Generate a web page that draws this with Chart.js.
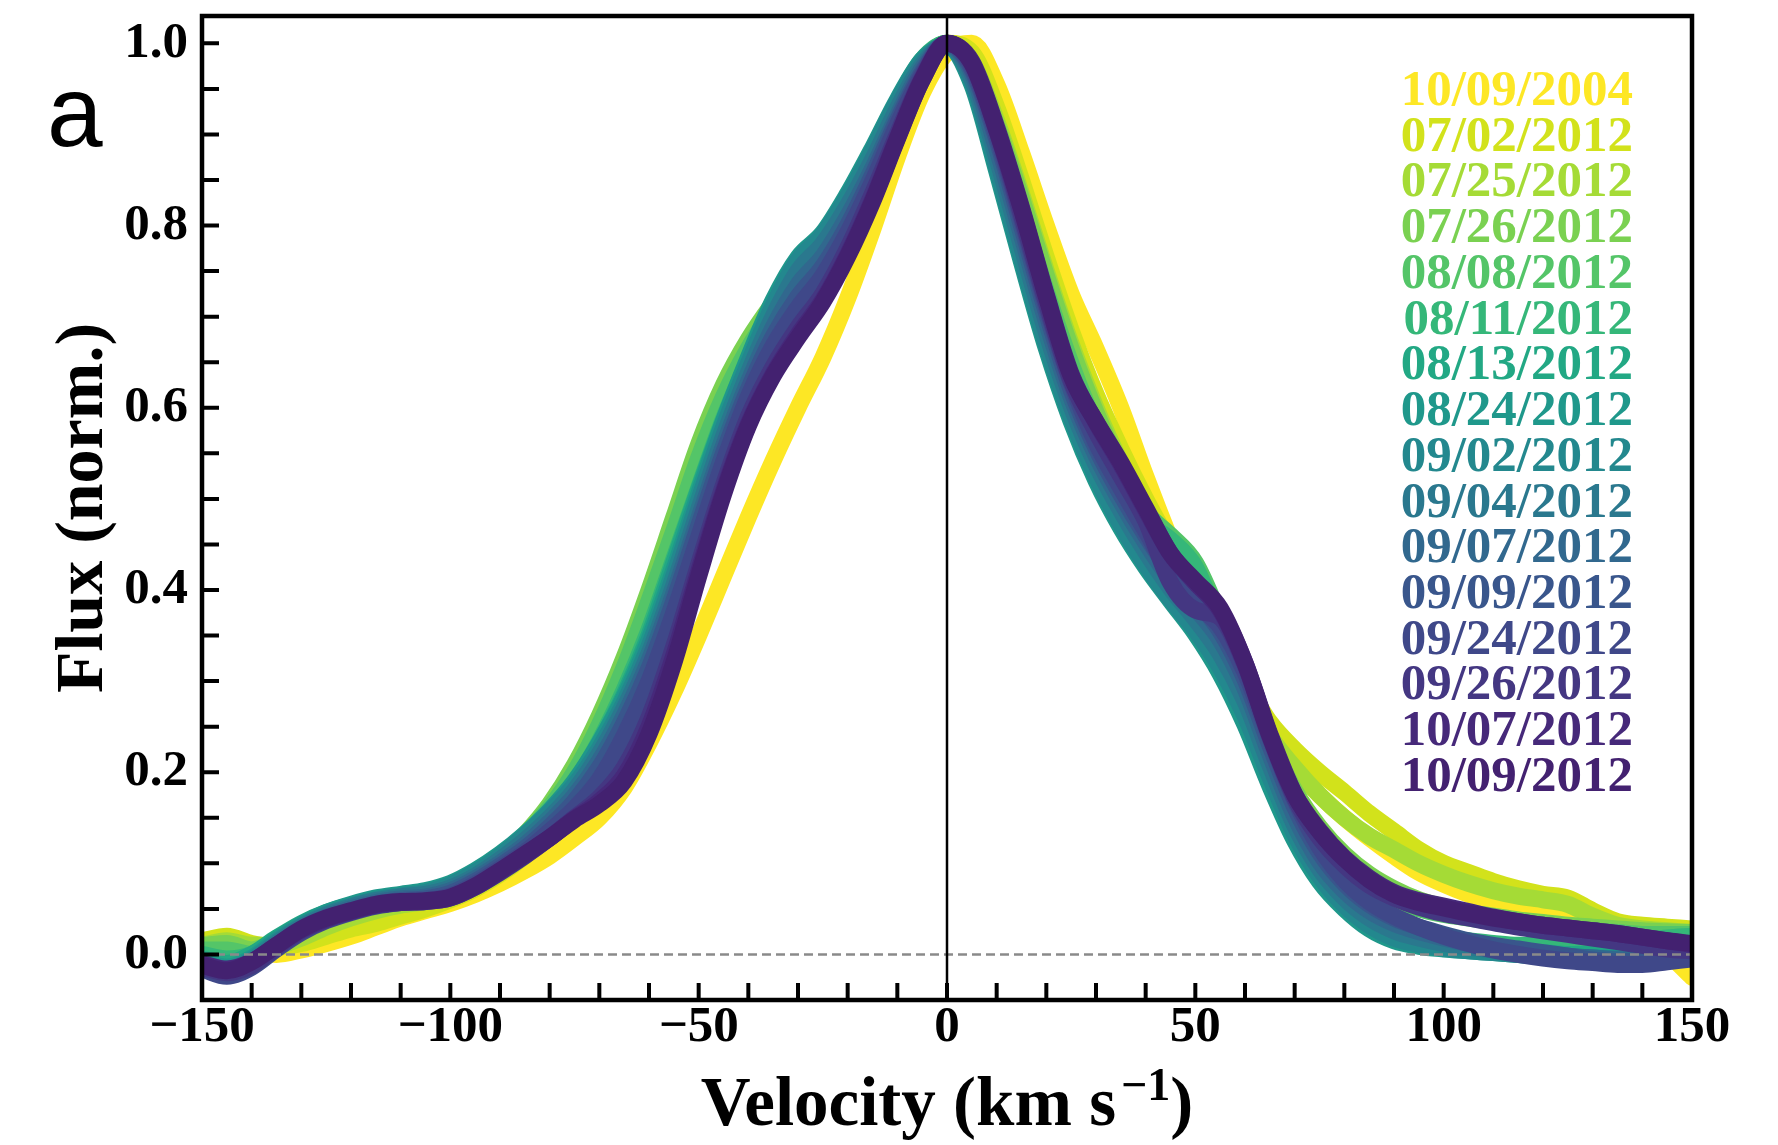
<!DOCTYPE html>
<html>
<head>
<meta charset="utf-8">
<script src="https://cdn.jsdelivr.net/npm/chart.js@4.4.1/dist/chart.umd.min.js"></script>
<style>
  html, body { margin: 0; padding: 0; background: #fff; }
  #wrap { width: 1778px; height: 1145px; }
</style>
</head>
<body>
<div id="wrap"><canvas id="chart" width="1778" height="1145"></canvas></div>
<script>
// velocity grid (km/s)
var VEL = [-150, -145, -140, -135, -130, -125, -120, -115, -110, -105,
           -100, -95, -90, -85, -80, -75, -70, -65, -60, -55,
           -50, -45, -40, -35, -30, -25, -20, -15, -10, -5,
           0, 5, 10, 15, 20, 25, 30, 35, 40, 45,
           50, 55, 60, 65, 70, 75, 80, 85, 90, 95,
           100, 105, 110, 115, 120, 125, 130, 135, 140, 145,
           150];

var DATES = ["10/09/2004", "07/02/2012", "07/25/2012", "07/26/2012", "08/08/2012", "08/11/2012",
             "08/13/2012", "08/24/2012", "09/02/2012", "09/04/2012", "09/07/2012", "09/09/2012",
             "09/24/2012", "09/26/2012", "10/07/2012", "10/09/2012"];

var COLORS = ["#fde725", "#d2e21b", "#a5db36", "#7ad151", "#54c568", "#35b779",
              "#22a884", "#1f988b", "#23888e", "#2a788e", "#31688e", "#39568c",
              "#3f4889", "#443782", "#46297a", "#432170"];

// normalised flux per date, one value per VEL point
var f20041009 = [0.005, 0.010, 0.005, 0.000, 0.005, 0.012, 0.020, 0.030, 0.040, 0.048,
  0.056, 0.066, 0.078, 0.092, 0.108, 0.128, 0.150, 0.183, 0.232, 0.288,
  0.350, 0.415, 0.480, 0.542, 0.600, 0.655, 0.720, 0.795, 0.875, 0.945,
  0.990, 1.000, 0.955, 0.880, 0.800, 0.725, 0.665, 0.600, 0.525, 0.455,
  0.390, 0.335, 0.285, 0.240, 0.205, 0.175, 0.150, 0.128, 0.108, 0.090,
  0.077, 0.066, 0.057, 0.050, 0.044, 0.038, 0.030, 0.020, 0.010, 0.000,
  -0.025];
var f20120702 = [0.015, 0.020, 0.012, 0.008, 0.012, 0.020, 0.028, 0.034, 0.042, 0.050,
  0.060, 0.072, 0.088, 0.108, 0.132, 0.162, 0.200, 0.250, 0.310, 0.380,
  0.455, 0.530, 0.590, 0.645, 0.695, 0.745, 0.795, 0.850, 0.910, 0.965,
  1.000, 0.990, 0.930, 0.850, 0.765, 0.685, 0.615, 0.555, 0.500, 0.450,
  0.400, 0.350, 0.300, 0.255, 0.225, 0.200, 0.178, 0.155, 0.135, 0.115,
  0.100, 0.090, 0.080, 0.072, 0.066, 0.062, 0.048, 0.036, 0.032, 0.030,
  0.028];
var f20120725 = [0.010, 0.015, 0.010, 0.010, 0.018, 0.030, 0.040, 0.048, 0.054, 0.058,
  0.064, 0.076, 0.094, 0.116, 0.145, 0.180, 0.225, 0.280, 0.345, 0.420,
  0.500, 0.575, 0.635, 0.685, 0.728, 0.770, 0.815, 0.865, 0.920, 0.972,
  1.000, 0.980, 0.915, 0.835, 0.750, 0.670, 0.600, 0.540, 0.490, 0.445,
  0.400, 0.350, 0.295, 0.240, 0.205, 0.175, 0.150, 0.130, 0.115, 0.100,
  0.088, 0.078, 0.070, 0.064, 0.060, 0.055, 0.042, 0.032, 0.028, 0.026,
  0.024];
var f20120726 = [0.010, 0.012, 0.005, 0.015, 0.028, 0.040, 0.048, 0.055, 0.060, 0.065,
  0.072, 0.086, 0.106, 0.132, 0.165, 0.208, 0.262, 0.326, 0.400, 0.480,
  0.560, 0.625, 0.675, 0.715, 0.750, 0.785, 0.828, 0.878, 0.932, 0.980,
  1.000, 0.975, 0.910, 0.830, 0.745, 0.665, 0.595, 0.535, 0.485, 0.445,
  0.405, 0.355, 0.295, 0.235, 0.180, 0.140, 0.110, 0.088, 0.072, 0.060,
  0.052, 0.046, 0.042, 0.038, 0.035, 0.032, 0.030, 0.028, 0.026, 0.025,
  0.024];
var f20120808 = [0.005, 0.005, 0.000, 0.014, 0.030, 0.042, 0.050, 0.056, 0.061, 0.066,
  0.073, 0.087, 0.106, 0.130, 0.161, 0.200, 0.252, 0.315, 0.388, 0.465,
  0.545, 0.612, 0.665, 0.708, 0.748, 0.786, 0.828, 0.878, 0.932, 0.980,
  1.000, 0.970, 0.900, 0.815, 0.728, 0.648, 0.580, 0.525, 0.485, 0.460,
  0.430, 0.370, 0.300, 0.230, 0.170, 0.125, 0.095, 0.075, 0.060, 0.050,
  0.044, 0.040, 0.036, 0.032, 0.030, 0.028, 0.026, 0.024, 0.022, 0.022,
  0.022];
var f20120811 = [0.000, -0.005, 0.000, 0.016, 0.032, 0.044, 0.052, 0.058, 0.062, 0.066,
  0.072, 0.086, 0.104, 0.126, 0.154, 0.188, 0.234, 0.290, 0.356, 0.434,
  0.512, 0.588, 0.652, 0.710, 0.758, 0.790, 0.832, 0.882, 0.936, 0.982,
  1.000, 0.965, 0.885, 0.795, 0.705, 0.625, 0.560, 0.510, 0.475, 0.455,
  0.425, 0.360, 0.285, 0.210, 0.148, 0.100, 0.068, 0.045, 0.030, 0.022,
  0.018, 0.015, 0.012, 0.010, 0.010, 0.010, 0.010, 0.012, 0.015, 0.018,
  0.020];
var f20120813 = [-0.005, -0.010, 0.000, 0.018, 0.034, 0.046, 0.054, 0.060, 0.064, 0.067,
  0.074, 0.088, 0.106, 0.128, 0.155, 0.188, 0.232, 0.285, 0.350, 0.430,
  0.510, 0.585, 0.650, 0.710, 0.755, 0.785, 0.830, 0.880, 0.935, 0.980,
  0.998, 0.960, 0.870, 0.770, 0.675, 0.595, 0.528, 0.475, 0.430, 0.392,
  0.355, 0.310, 0.255, 0.188, 0.128, 0.082, 0.052, 0.030, 0.016, 0.010,
  0.008, 0.006, 0.004, 0.003, 0.002, 0.000, 0.000, -0.002, 0.000, 0.005,
  0.010];
var f20120824 = [-0.008, -0.014, -0.004, 0.016, 0.033, 0.046, 0.055, 0.062, 0.066, 0.070,
  0.078, 0.092, 0.110, 0.132, 0.158, 0.190, 0.232, 0.282, 0.345, 0.422,
  0.505, 0.585, 0.655, 0.718, 0.765, 0.792, 0.835, 0.885, 0.938, 0.982,
  0.998, 0.955, 0.860, 0.760, 0.665, 0.585, 0.520, 0.468, 0.425, 0.388,
  0.352, 0.308, 0.252, 0.185, 0.125, 0.080, 0.050, 0.028, 0.015, 0.009,
  0.006, 0.004, 0.002, 0.000, -0.002, -0.003, -0.004, -0.004, -0.002, 0.004,
  0.008];
var f20120902 = [-0.010, -0.016, -0.006, 0.014, 0.031, 0.044, 0.053, 0.060, 0.064, 0.068,
  0.076, 0.090, 0.108, 0.130, 0.156, 0.186, 0.226, 0.276, 0.338, 0.415,
  0.498, 0.578, 0.648, 0.712, 0.762, 0.790, 0.832, 0.882, 0.936, 0.980,
  0.998, 0.958, 0.865, 0.765, 0.670, 0.590, 0.525, 0.472, 0.428, 0.390,
  0.356, 0.315, 0.262, 0.195, 0.132, 0.086, 0.054, 0.032, 0.018, 0.011,
  0.007, 0.004, 0.002, 0.000, -0.002, -0.004, -0.005, -0.006, -0.004, 0.002,
  0.006];
var f20120904 = [-0.012, -0.018, -0.008, 0.012, 0.030, 0.043, 0.052, 0.059, 0.063, 0.066,
  0.073, 0.086, 0.104, 0.125, 0.150, 0.180, 0.220, 0.270, 0.330, 0.405,
  0.488, 0.568, 0.638, 0.700, 0.750, 0.780, 0.822, 0.872, 0.928, 0.976,
  0.999, 0.962, 0.875, 0.778, 0.683, 0.602, 0.538, 0.487, 0.442, 0.402,
  0.368, 0.330, 0.278, 0.208, 0.142, 0.094, 0.062, 0.040, 0.026, 0.018,
  0.012, 0.008, 0.005, 0.002, 0.000, -0.002, -0.004, -0.005, -0.003, 0.002,
  0.006];
var f20120907 = [-0.014, -0.020, -0.010, 0.010, 0.028, 0.041, 0.050, 0.057, 0.061, 0.063,
  0.070, 0.083, 0.100, 0.120, 0.145, 0.174, 0.212, 0.262, 0.322, 0.396,
  0.478, 0.558, 0.628, 0.688, 0.735, 0.766, 0.810, 0.862, 0.920, 0.972,
  0.999, 0.968, 0.885, 0.790, 0.695, 0.612, 0.548, 0.497, 0.452, 0.412,
  0.380, 0.345, 0.292, 0.220, 0.152, 0.102, 0.070, 0.048, 0.034, 0.025,
  0.018, 0.012, 0.008, 0.004, 0.001, -0.002, -0.004, -0.006, -0.005, 0.000,
  0.004];
var f20120909 = [-0.015, -0.022, -0.012, 0.008, 0.026, 0.039, 0.048, 0.055, 0.059, 0.061,
  0.067, 0.080, 0.097, 0.116, 0.140, 0.168, 0.205, 0.254, 0.314, 0.388,
  0.470, 0.550, 0.620, 0.678, 0.722, 0.755, 0.800, 0.855, 0.915, 0.968,
  1.000, 0.972, 0.895, 0.800, 0.705, 0.620, 0.556, 0.505, 0.460, 0.420,
  0.390, 0.355, 0.302, 0.230, 0.162, 0.112, 0.078, 0.055, 0.040, 0.030,
  0.022, 0.015, 0.010, 0.006, 0.002, -0.002, -0.006, -0.008, -0.008, -0.004,
  0.000];
var f20120924 = [-0.016, -0.024, -0.014, 0.006, 0.024, 0.037, 0.046, 0.053, 0.057, 0.059,
  0.064, 0.077, 0.094, 0.112, 0.135, 0.160, 0.192, 0.240, 0.300, 0.375,
  0.458, 0.540, 0.612, 0.668, 0.710, 0.745, 0.792, 0.848, 0.910, 0.965,
  1.000, 0.975, 0.900, 0.808, 0.712, 0.628, 0.562, 0.512, 0.465, 0.418,
  0.385, 0.360, 0.310, 0.238, 0.170, 0.118, 0.082, 0.058, 0.042, 0.030,
  0.020, 0.012, 0.005, 0.000, -0.004, -0.007, -0.009, -0.011, -0.011, -0.008,
  -0.005];
var f20120926 = [-0.014, -0.020, -0.012, 0.008, 0.026, 0.038, 0.047, 0.054, 0.057, 0.058,
  0.062, 0.074, 0.090, 0.108, 0.128, 0.150, 0.172, 0.205, 0.260, 0.338,
  0.428, 0.515, 0.590, 0.645, 0.688, 0.725, 0.775, 0.835, 0.900, 0.962,
  1.000, 0.978, 0.905, 0.812, 0.716, 0.630, 0.574, 0.525, 0.476, 0.408,
  0.378, 0.370, 0.318, 0.240, 0.172, 0.128, 0.098, 0.076, 0.062, 0.052,
  0.045, 0.040, 0.035, 0.030, 0.026, 0.022, 0.018, 0.014, 0.010, 0.006,
  0.004];
var f20121007 = [-0.010, -0.016, -0.008, 0.010, 0.027, 0.039, 0.047, 0.054, 0.057, 0.058,
  0.062, 0.074, 0.091, 0.109, 0.128, 0.149, 0.168, 0.196, 0.250, 0.328,
  0.420, 0.508, 0.582, 0.637, 0.680, 0.718, 0.768, 0.828, 0.896, 0.960,
  1.000, 0.980, 0.908, 0.820, 0.724, 0.637, 0.584, 0.538, 0.488, 0.440,
  0.408, 0.378, 0.320, 0.242, 0.176, 0.136, 0.106, 0.084, 0.068, 0.059,
  0.053, 0.047, 0.041, 0.036, 0.032, 0.029, 0.026, 0.023, 0.019, 0.015,
  0.011];
var f20121009 = [-0.012, -0.018, -0.008, 0.010, 0.028, 0.040, 0.048, 0.055, 0.058, 0.059,
  0.063, 0.075, 0.092, 0.110, 0.128, 0.148, 0.165, 0.190, 0.242, 0.320,
  0.415, 0.505, 0.580, 0.635, 0.677, 0.716, 0.766, 0.826, 0.895, 0.960,
  1.000, 0.978, 0.905, 0.818, 0.722, 0.635, 0.585, 0.540, 0.490, 0.440,
  0.410, 0.380, 0.320, 0.240, 0.175, 0.135, 0.105, 0.082, 0.066, 0.057,
  0.051, 0.045, 0.040, 0.036, 0.032, 0.029, 0.026, 0.023, 0.019, 0.015,
  0.012];

var FLUX = [f20041009, f20120702, f20120725, f20120726, f20120808, f20120811,
            f20120813, f20120824, f20120902, f20120904, f20120907, f20120909,
            f20120924, f20120926, f20121007, f20121009];

var X_TICKS = [-150, -100, -50, 0, 50, 100, 150];
var Y_TICKS = [0.0, 0.2, 0.4, 0.6, 0.8, 1.0];

var SERIF = "'Liberation Serif', 'Times New Roman', serif";

var datasets = [];
for (var i = 0; i < FLUX.length; i++) {
    var pts = [];
    for (var j = 0; j < VEL.length; j++) {
        pts.push({ x: VEL[j], y: FLUX[i][j] });
    }
    datasets.push({
        label: DATES[i],
        data: pts,
        borderColor: COLORS[i],
        backgroundColor: COLORS[i],
        borderWidth: 17,
        borderCapStyle: 'round',
        borderJoinStyle: 'round',
        pointRadius: 0,
        cubicInterpolationMode: 'monotone',
        fill: false,
        clip: 0,
        order: FLUX.length - 1 - i   // later dates on top, as in the original
    });
}

// frame, inward ticks, zero lines, legend text, axis titles
var decor = {
    id: 'decor',
    afterDatasetsDraw: function (chart) {
        var ctx = chart.ctx, a = chart.chartArea;
        var xs = chart.scales.x, ys = chart.scales.y;
        ctx.save();

        var y0 = ys.getPixelForValue(0);
        ctx.strokeStyle = '#8a8a8a';
        ctx.lineWidth = 2.5;
        ctx.setLineDash([9, 5]);
        ctx.beginPath(); ctx.moveTo(a.left, y0); ctx.lineTo(a.right, y0); ctx.stroke();
        ctx.setLineDash([]);

        var x0 = xs.getPixelForValue(0);
        ctx.strokeStyle = '#000';
        ctx.lineWidth = 2.5;
        ctx.beginPath(); ctx.moveTo(x0, a.top); ctx.lineTo(x0, a.bottom); ctx.stroke();

        ctx.lineWidth = 4;
        ctx.beginPath();
        for (var v = -140; v <= 140; v += 10) {
            var px = xs.getPixelForValue(v);
            ctx.moveTo(px, a.bottom); ctx.lineTo(px, a.bottom - 17);
        }
        for (var k = 0; k <= 20; k++) {
            var py = ys.getPixelForValue(k * 0.05);
            ctx.moveTo(a.left, py); ctx.lineTo(a.left + 17, py);
        }
        ctx.stroke();

        ctx.lineWidth = 4.5;
        ctx.strokeRect(a.left, a.top, a.right - a.left, a.bottom - a.top);

        ctx.font = 'bold 51px ' + SERIF;
        ctx.textAlign = 'right';
        ctx.textBaseline = 'alphabetic';
        for (var n = 0; n < DATES.length; n++) {
            ctx.fillStyle = COLORS[n];
            ctx.fillText(DATES[n], 1633, 105 + n * 45.73);
        }
        ctx.restore();
    },
    afterDraw: function (chart) {
        var ctx = chart.ctx, a = chart.chartArea;
        ctx.save();
        ctx.fillStyle = '#000';
        ctx.textBaseline = 'alphabetic';

        // x title with superscript
        var big = 'bold 69px ' + SERIF, small = 'bold 46px ' + SERIF;
        var t1 = 'Velocity (km s', t2 = '\u22121', t3 = ')';
        ctx.font = big; var w1 = ctx.measureText(t1).width, w3 = ctx.measureText(t3).width;
        ctx.font = small; var w2 = ctx.measureText(t2).width;
        var gap = 5;
        var cx = (a.left + a.right) / 2;
        var sx = cx - (w1 + gap + w2 + w3) / 2;
        ctx.textAlign = 'left';
        ctx.font = big; ctx.fillText(t1, sx, 1125);
        ctx.font = small; ctx.fillText(t2, sx + w1 + gap, 1100);
        ctx.font = big; ctx.fillText(t3, sx + w1 + gap + w2, 1125);

        // y title
        ctx.save();
        ctx.translate(102, (a.top + a.bottom) / 2);
        ctx.rotate(-Math.PI / 2);
        ctx.textAlign = 'center';
        ctx.font = 'bold 68px ' + SERIF;
        ctx.fillText('Flux (norm.)', 0, 0);
        ctx.restore();

        // panel letter
        ctx.textAlign = 'left';
        ctx.font = '100px "Liberation Sans", Arial, sans-serif';
        ctx.fillText('a', 47, 146);
        ctx.restore();
    }
};

var ctx = document.getElementById("chart").getContext('2d');
var myChart = new Chart(ctx, {
    type: 'line',
    data: { datasets: datasets },
    options: {
        responsive: false,
        animation: false,
        devicePixelRatio: 1,
        layout: { padding: { top: 16, right: 86, left: 0, bottom: 0 } },
        plugins: { legend: { display: false }, tooltip: { enabled: false } },
        scales: {
            x: {
                type: 'linear',
                min: -150,
                max: 150,
                grid: { display: false, drawTicks: false },
                border: { display: false },
                afterBuildTicks: function (s) { s.ticks = X_TICKS.map(function (v) { return { value: v }; }); },
                afterFit: function (s) { s.height = 145; s.paddingLeft = 0; s.paddingRight = 0; },
                ticks: {
                    autoSkip: false,
                    maxRotation: 0,
                    padding: 2,
                    color: '#000',
                    font: { family: SERIF, size: 51, weight: 'bold', lineHeight: 1 },
                    callback: function (v) { return v < 0 ? '\u2212' + Math.abs(v) : String(v); }
                }
            },
            y: {
                type: 'linear',
                min: -0.05,
                max: 1.03,
                grid: { display: false, drawTicks: false },
                border: { display: false },
                afterBuildTicks: function (s) { s.ticks = Y_TICKS.map(function (v) { return { value: v }; }); },
                afterFit: function (s) { s.width = 202; s.paddingTop = 0; s.paddingBottom = 0; },
                ticks: {
                    autoSkip: false,
                    padding: 14,
                    color: '#000',
                    font: { family: SERIF, size: 51, weight: 'bold', lineHeight: 1 },
                    callback: function (v) { return Number(v).toFixed(1); }
                }
            }
        }
    },
    plugins: [decor]
});
</script>
</body>
</html>
